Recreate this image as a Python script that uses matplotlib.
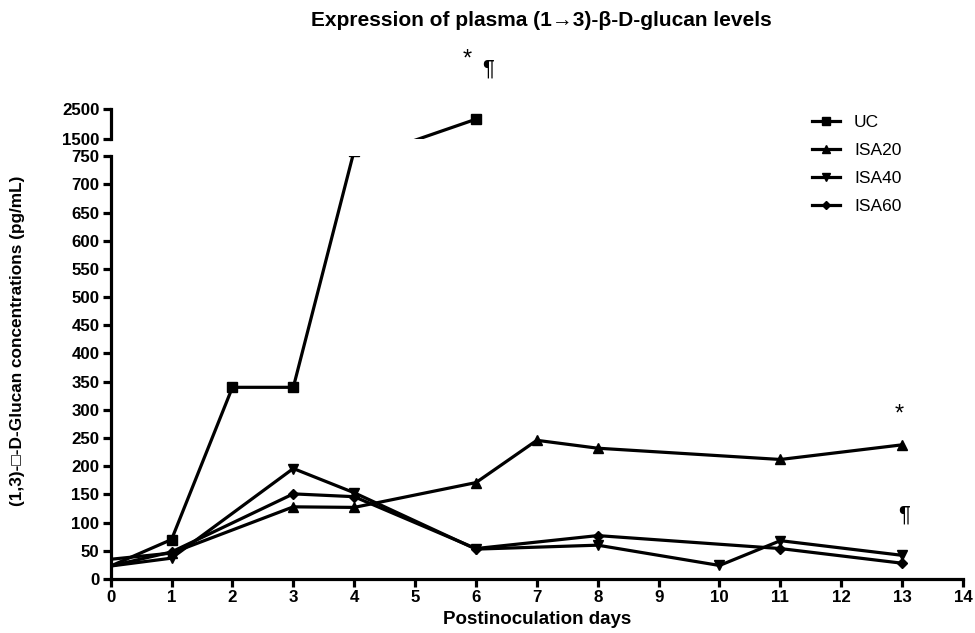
#
#   Plasma (1->3)-beta-D-glucan levels after inoculation, broken y axis
#
import matplotlib
matplotlib.use("Agg")
from matplotlib import pyplot as plt

plt.rcParams["font.family"] = ["Liberation Sans", "DejaVu Sans"]

#   DATA
days_uc = [0, 1, 2, 3, 4, 6]
uc = [23, 70, 340, 340, 760, 2160]   # day 4 falls into the axis break

days_isa20 = [0, 1, 3, 4, 6, 7, 8, 11, 13]
isa20 = [35, 46, 128, 127, 171, 246, 232, 212, 238]

days_isa40 = [0, 1, 3, 4, 6, 8, 10, 11, 13]
isa40 = [23, 37, 196, 153, 53, 60, 24, 68, 42]

days_isa60 = [0, 1, 3, 4, 6, 8, 11, 13]
isa60 = [23, 48, 151, 146, 54, 77, 54, 28]

series = [
    ("UC", days_uc, uc, "s"),
    ("ISA20", days_isa20, isa20, "^"),
    ("ISA40", days_isa40, isa40, "v"),
    ("ISA60", days_isa60, isa60, "D"),
]

lower_ticks = list(range(0, 751, 50))
upper_ticks = [1500, 2500]
x_ticks = list(range(0, 15))

#   FIGURE
fig = plt.figure(figsize=(9.75, 6.33), dpi=100)
ax = fig.add_axes([0.1135, 0.0853, 0.8742, 0.668])
ax_top = fig.add_axes([0.1135, 0.7804, 0.8742, 0.0474], sharex=ax)
ax_top.patch.set_visible(False)

lw = 2.3
for name, d, v, m in series:
    ms = 5.5 if m == "D" else 7
    for a in (ax, ax_top):
        # markers at day 0 sit under the y axis in the original
        a.plot(d, v, color="black", lw=lw, marker=m, ms=ms,
               markevery=slice(1, None),
               label=name if a is ax else None)

ax.set_xlim(0, 14)
ax.set_ylim(0, 750)
ax_top.set_ylim(1500, 2500)

ax.set_xticks(x_ticks)
ax.set_yticks(lower_ticks)
ax_top.set_yticks(upper_ticks)

for a in (ax, ax_top):
    a.spines["top"].set_visible(False)
    a.spines["right"].set_visible(False)
    a.spines["left"].set_linewidth(2.3)
    a.spines["bottom"].set_linewidth(2.3)
    a.spines["left"].set_zorder(5)
    a.spines["bottom"].set_zorder(5)
    a.tick_params(width=2.3, length=6, direction="out", labelsize=12.2, pad=2)
    for lab in a.get_yticklabels() + a.get_xticklabels():
        lab.set_fontweight("bold")

ax_top.spines["bottom"].set_visible(False)
ax_top.tick_params(axis="x", bottom=False, labelbottom=False)

ax.set_xlabel("Postinoculation days", fontsize=13.5, fontweight="bold", labelpad=4)
ax.set_ylabel("(1,3)-\u25a1-D-Glucan concentrations (pg/mL)", fontsize=12.4,
              fontweight="bold")
ax.yaxis.set_label_coords(-0.1, 0.563)

fig.text(0.555, 1 - 20 / 633, "Expression of plasma (1\u21923)-\u03b2-D-glucan levels",
         fontsize=15, fontweight="bold", ha="center", va="center")

# significance marks
ax_top.text(5.86, 4150, "*", fontsize=17, ha="center", va="center", clip_on=False)
ax_top.text(6.2, 3830, "\u00b6", fontsize=16, ha="center", va="center", clip_on=False)
ax.text(12.96, 291, "*", fontsize=17, ha="center", va="center")
ax.text(13.04, 113, "\u00b6", fontsize=16, ha="center", va="center")

leg = ax.legend(loc="upper left", bbox_to_anchor=(0.805, 1.135), frameon=False,
                fontsize=12.5, handlelength=1.6, handletextpad=0.8,
                labelspacing=0.74, markerscale=0.8)
leg.set_zorder(10)

fig.savefig("out.png", dpi=100)
